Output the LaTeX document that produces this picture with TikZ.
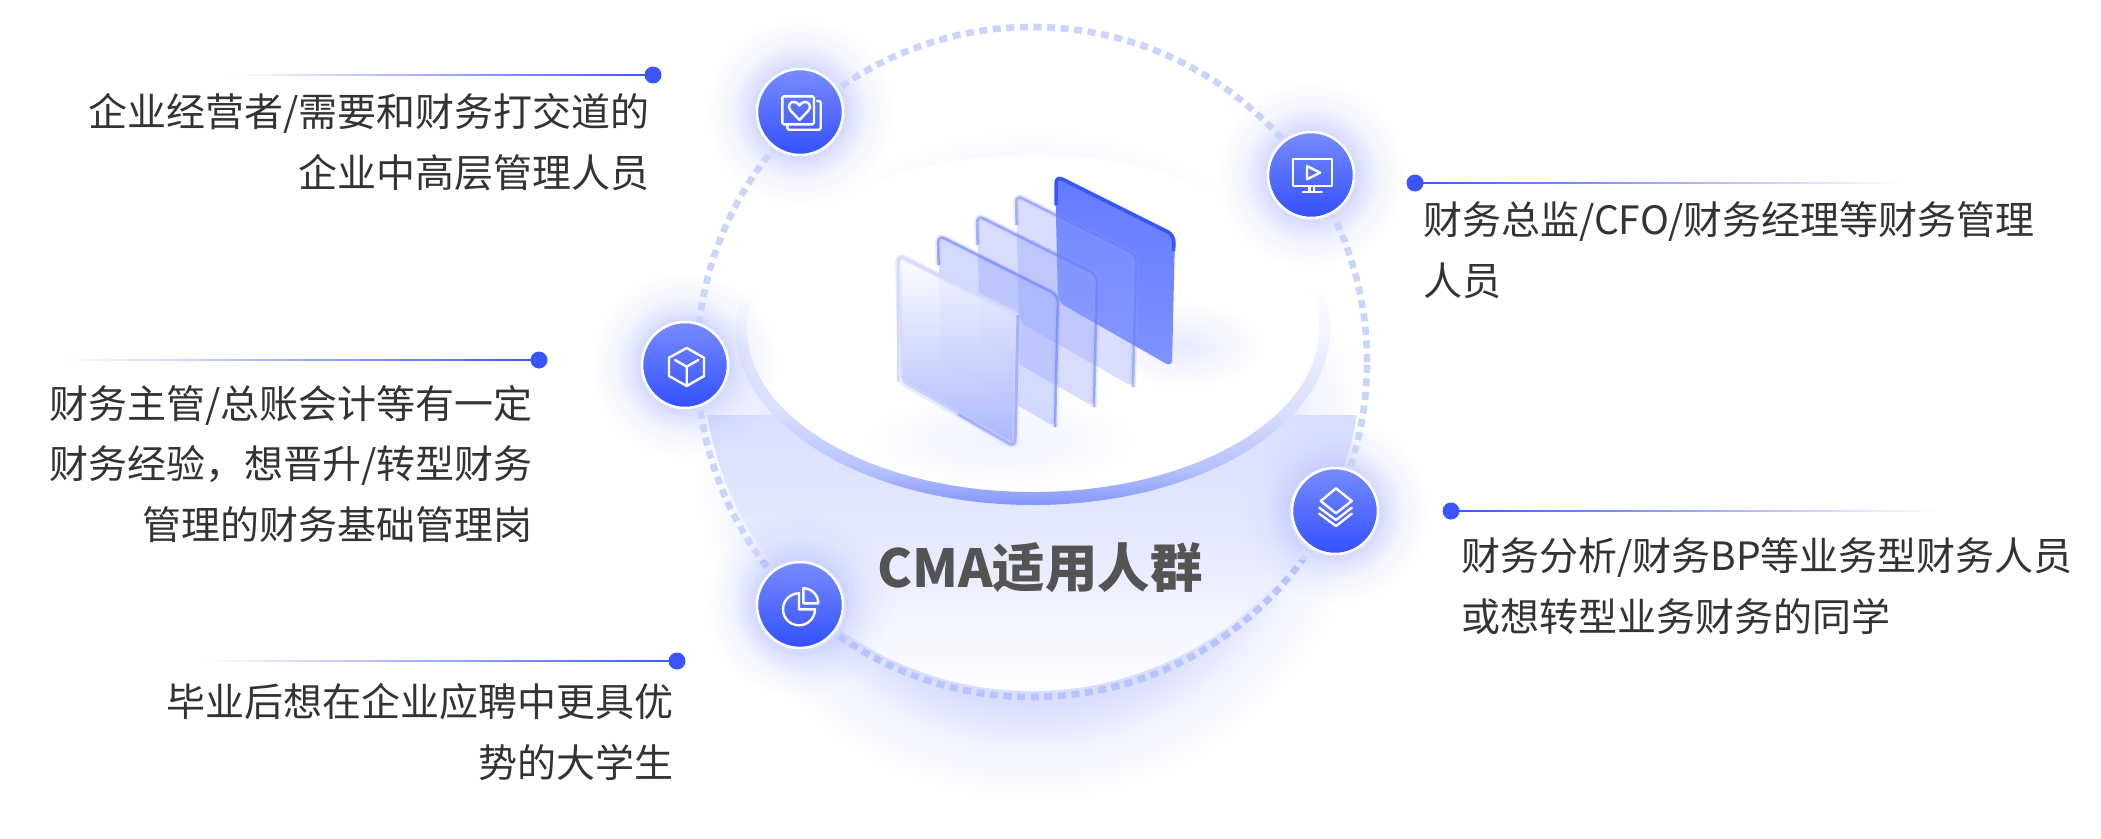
\documentclass[tikz,border=0pt]{standalone}
\usepackage{fontspec}
\setmainfont{Noto Sans CJK SC}
\usetikzlibrary{fadings,calc}
\definecolor{brand}{HTML}{3A55FB}
\definecolor{ballMid}{HTML}{3350FF}
\definecolor{ink}{HTML}{333333}
\definecolor{dashc}{HTML}{CBD4FD}
\definecolor{dashd}{HTML}{B8C4FE}
\definecolor{haloc}{HTML}{B4BFFF}
\definecolor{gA}{HTML}{D9DEFF}
\definecolor{gB}{HTML}{F0F2FF}
\definecolor{bA}{HTML}{8496FC}
\definecolor{bB}{HTML}{B5C1FE}
\definecolor{bC}{HTML}{D6DDFF}
\definecolor{bD}{HTML}{F3F5FF}
\definecolor{ballTop}{HTML}{778BFF}
\definecolor{panelTop}{HTML}{627AFF}
\definecolor{panelBot}{HTML}{7F92FF}
\pgfdeclareradialshading{bigglow}{\pgfpointorigin}{color(0bp)=(gA);color(18bp)=(gA);color(21bp)=(gB);color(25bp)=(white);color(50bp)=(white)}
\pgfdeclareverticalshading{bandshade}{100bp}{color(0bp)=(bA);color(25bp)=(bA);color(30bp)=(bB);color(38bp)=(bC);color(50bp)=(bD);color(56bp)=(white);color(100bp)=(white)}
\pgfdeclareradialshading{halosh}{\pgfpointorigin}{color(0bp)=(white);color(10bp)=(white);color(14bp)=(black!45!white);color(19bp)=(black!82!white);color(25bp)=(black);color(50bp)=(black)}
\pgfdeclarefading{halofade}{\pgfuseshading{halosh}}
\pgfdeclareradialshading{softsh}{\pgfpointorigin}{color(0bp)=(white);color(25bp)=(black);color(50bp)=(black)}
\pgfdeclarefading{softfade}{\pgfuseshading{softsh}}
\pgfdeclarehorizontalshading{rightsh}{100bp}{color(0bp)=(black);color(25bp)=(black);color(75bp)=(white);color(100bp)=(white)}
\pgfdeclarefading{toright}{\pgfuseshading{rightsh}}
\pgfdeclarehorizontalshading{leftsh}{100bp}{color(0bp)=(white);color(25bp)=(white);color(75bp)=(black);color(100bp)=(black)}
\pgfdeclarefading{toleft}{\pgfuseshading{leftsh}}
\pgfdeclareverticalshading{downsh}{100bp}{color(0bp)=(white!85!black);color(25bp)=(white!85!black);color(75bp)=(black);color(100bp)=(black)}
\pgfdeclarefading{fadedown}{\pgfuseshading{downsh}}
\tikzset{
  halo/.style={fill=haloc, path fading=halofade, opacity=.75},
  ball/.style={circle, minimum size=86pt, inner sep=0pt, draw=white, line width=2.5pt, top color=ballTop, middle color=ballMid, bottom color=ballMid},
  ico/.style={draw=white, line width=2.4pt, line join=round, line cap=round},
  dotend/.style={circle, minimum size=17pt, inner sep=0pt, fill=brand},
  leadR/.style={draw=brand, line width=2.4pt, path fading=toright},
  leadL/.style={draw=brand, line width=2.4pt, path fading=toleft},
  caption/.style={text=ink, font=\fontsize{39}{60.5}\selectfont, inner sep=0pt},
  panelshape/.style={rounded corners=7pt},
  orbit/.style={line width=6.6pt, dash pattern=on 8pt off 5.6pt},
}
\def\panelpath{(0,0) -- (120,60) -- (117,192) -- (3,127) -- cycle}
\def\panelopen{(0.6,30) -- (0,0) -- (120,60) -- (117,192)}
\begin{document}
\begin{tikzpicture}[x=1pt,y=-1pt]
\useasboundingbox (0,0) rectangle (2101,838);
\fill[white] (0,0) rectangle (2101,838);
\coordinate (ctr) at (1032,362);
% lower glow
\shade[shading=bigglow] (1032,465) circle[radius=335pt];
% bowl
\begin{scope}
  \clip (ctr) circle[radius=329pt];
  \shade[top color=gA, bottom color=white, middle color=gA!60!white] (690,415) rectangle (1375,695);
\end{scope}
% dish
\fill[white] (1033,330) ellipse[x radius=297pt, y radius=175pt];
\shade[shading=bandshade, even odd rule] (1033,330) ellipse[x radius=297pt, y radius=175pt] (1033,329) ellipse[x radius=286pt, y radius=163pt];
% panel shadows
\fill[fill=gA, path fading=softfade, opacity=.6] (1185,345) ellipse[x radius=75pt, y radius=42pt];
\fill[fill=gA, path fading=softfade, opacity=.4] (1000,440) ellipse[x radius=130pt, y radius=45pt];
% panels
\begin{scope}[shift={(1055,175)}]
  \shade[panelshape, top color=panelTop, bottom color=panelBot] \panelpath;
  \draw[panelshape, draw=brand, line width=3.6pt] (1.2,30) -- (1,1) -- (119,60) -- (118.6,76);
\end{scope}
\foreach \px/\py/\fa/\sa in {1016/195/.34/.45, 977/215/.36/.5, 938/235/.38/.55}{
  \begin{scope}[shift={(\px,\py)}]
    \fill[panelshape, fill=brand!55!white, opacity=\fa] \panelpath;
    \draw[panelshape, draw=brand!55!white, line width=6pt, opacity=.2] \panelopen;
    \draw[panelshape, draw=brand!80!white, line width=2.5pt, opacity=\sa] \panelopen;
  \end{scope}
}
\begin{scope}[shift={(898,255)}]
  \fill[panelshape, fill=white, opacity=.82] \panelpath;
  \fill[panelshape, fill=brand!50!white, path fading=fadedown] \panelpath;
  \draw[panelshape, draw=brand!22!white, line width=6pt, opacity=.5] \panelpath;
  \draw[panelshape, draw=brand!22!white, line width=2.5pt] (0,127) -- (0,0) -- (120,60);
  \draw[panelshape, draw=brand!45!white, line width=3pt] (120,60) -- (117,192) -- (60,159);
\end{scope}
% icon halos
\coordinate (h1) at (800,112);
\coordinate (h2) at (1311,175);
\coordinate (h3) at (685,365);
\coordinate (h4) at (1335,511);
\coordinate (h5) at (800,605);
\foreach \h in {h1,h2,h3,h4,h5}{
  \fill[halo] (\h) circle[radius=92pt];
}
% dotted orbit
\draw[dashc, orbit] (ctr) circle[radius=335pt];
\begin{scope}
  \clip (600,560) rectangle (1450,720);
  \draw[dashd, orbit] (ctr) circle[radius=335pt];
\end{scope}
% icon balls
\foreach \h in {h1,h2,h3,h4,h5}{
  \fill[bC] ($(\h)+(0,1.5)$) circle[radius=46pt];
}
\node[ball] (n1) at (h1) {};
\node[ball] (n2) at (h2) {};
\node[ball] (n3) at (h3) {};
\node[ball] (n4) at (h4) {};
\node[ball] (n5) at (h5) {};
% heart card icon
\begin{scope}[shift={(n1.center)}]
  \draw[ico, rounded corners=1.5pt] (-17.7,-15.7) rectangle (14,12.3);
  \draw[ico, rounded corners=1.5pt] (17,-11) -- (20.7,-11) -- (20.7,17.7) -- (-12.7,17.7) -- (-12.7,12.3);
  \draw[ico] (-0.5,8) -- (-9.5,-1.5) .. controls (-13.5,-6) and (-9,-11) .. (-5.5,-10) .. controls (-3.5,-9.7) and (-1.5,-8.5) .. (-0.5,-6.5) .. controls (.5,-8.5) and (2.5,-9.7) .. (4.5,-10) .. controls (8,-11) and (12.5,-6) .. (8.5,-1.5) -- cycle;
\end{scope}
% screen icon
\begin{scope}[shift={(n2.center)}]
  \draw[ico] (-18,-16) rectangle (21,11);
  \draw[ico] (-4,-9) -- (9,-2.3) -- (-4,4.3) -- cycle;
  \draw[ico] (-1.7,11) -- (-1.7,17) (2.7,11) -- (2.7,17) (-8,17) -- (10.7,17);
\end{scope}
% cube icon
\begin{scope}[shift={(n3.center)}]
  \draw[ico] (1.7,-17) -- (19,-7.3) -- (19,11) -- (1.7,21) -- (-16,11) -- (-16,-7.3) -- cycle;
  \draw[ico] (-10,-5) -- (1.7,1.7) -- (13.3,-5) (1.7,1.7) -- (1.7,21);
\end{scope}
% layers icon
\begin{scope}[shift={(n4.center)}]
  \draw[ico] (1,-22.7) -- (16.7,-10) -- (1,2.3) -- (-14.3,-10) -- cycle;
  \draw[ico] (-15.7,-3.3) -- (1,9) -- (16.7,-3.3);
  \draw[ico] (-15.7,2.7) -- (1,15) -- (16.7,2.7);
\end{scope}
% pie icon
\begin{scope}[shift={(n5.center)}]
  \draw[ico] (-1,-11.7) arc[start angle=90, end angle=360, radius=16pt] -- (-1,4.3) -- cycle;
  \draw[ico] (3.3,-16.7) arc[start angle=90, end angle=0, radius=15pt] -- (3.3,-1.7) -- cycle;
\end{scope}
% leaders
\node[dotend] (d1) at (653,75) {};
\node[dotend] (d2) at (1415,183) {};
\node[dotend] (d3) at (539,360) {};
\node[dotend] (d4) at (1451,511) {};
\node[dotend] (d5) at (677,661) {};
\coordinate (t1) at (228,75);
\coordinate (t2) at (1900,183);
\coordinate (t3) at (67,360);
\coordinate (t4) at (1936,511);
\coordinate (t5) at (200,661);
\draw[leadR] ($(t1)+(0,-6)$) ($(d1)+(0,6)$) (t1) -- (d1.center);
\draw[leadL] ($(d2)+(0,-6)$) ($(t2)+(0,6)$) (d2.center) -- (t2);
\draw[leadR] ($(t3)+(0,-6)$) ($(d3)+(0,6)$) (t3) -- (d3.center);
\draw[leadL] ($(d4)+(0,-6)$) ($(t4)+(0,6)$) (d4.center) -- (t4);
\draw[leadR] ($(t5)+(0,-6)$) ($(d5)+(0,6)$) (t5) -- (d5.center);
% captions
\node[caption, align=right, anchor=east] (c1) at (650,142) {企业经营者/需要和财务打交道的\\企业中高层管理人员};
\node[caption, align=left, anchor=west] (c2) at (1423,250) {财务总监/CFO/财务经理等财务管理\\人员};
\node[caption, align=right, anchor=east] (c3) at (533,464) {财务主管/总账会计等有一定\\财务经验，想晋升/转型财务\\管理的财务基础管理岗};
\node[caption, align=left, anchor=west] (c4) at (1461,586) {财务分析/财务BP等业务型财务人员\\或想转型业务财务的同学};
\node[caption, align=right, anchor=east] (c5) at (674,732) {毕业后想在企业应聘中更具优\\势的大学生};
\node[inner sep=0pt, text=black!67, font=\fontsize{52.4}{60}\selectfont\bfseries] (title) at (1040,568) {CMA适用人群};
\end{tikzpicture}
\end{document}
